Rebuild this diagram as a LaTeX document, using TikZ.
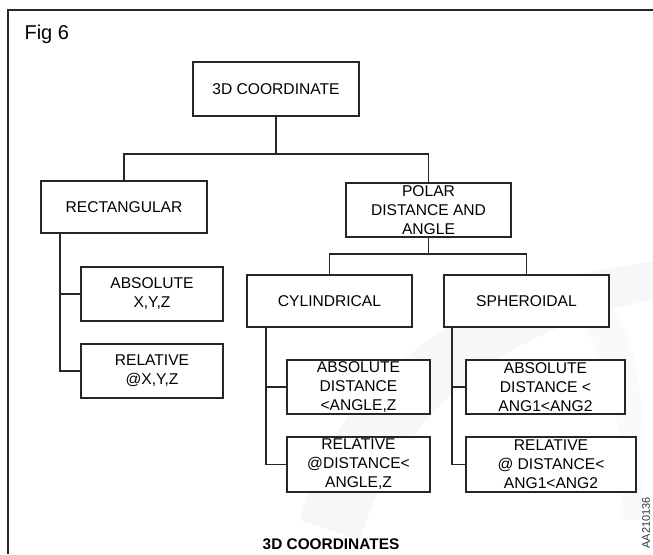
\documentclass[tikz,border=0pt]{standalone}
\usepackage{fontspec}
\setmainfont{Liberation Sans}
\begin{document}
\begin{tikzpicture}[x=1pt,y=-1pt,
  box/.style={draw=black!85,line width=1.1pt,fill=white,rectangle,inner sep=0pt,
    align=center,font=\fontsize{15.6}{19}\selectfont},
  link/.style={draw=black!85,line width=1.1pt}]
\useasboundingbox (0,0) rectangle (653,554);
\fill[white] (0,0) rectangle (653,554);
% faint watermark swoosh
\fill[black!3] (300,520) .. controls (340,350) and (520,275) .. (653,262)
   -- (653,300) .. controls (530,320) and (400,400) .. (360,540) -- cycle;
\fill[black!2] (560,300) .. controls (600,330) and (630,420) .. (620,520)
   -- (640,520) .. controls (650,420) and (640,330) .. (600,295) -- cycle;
% frame
\draw[black!85,line width=1.1pt] (8,554) -- (8,10) -- (653,10);
\node[anchor=west,font=\fontsize{20}{24}\selectfont] (fig) at (21,34) {Fig 6};
% boxes
\node[box,minimum width=166pt,minimum height=54pt] (root) at (276,89) {3D COORDINATE};
\node[box,minimum width=166pt,minimum height=52pt] (rect) at (124,207) {RECTANGULAR};
\node[box,minimum width=165pt,minimum height=54pt] (polar) at (428.5,210) {POLAR\\DISTANCE AND\\ANGLE};
\node[box,minimum width=165pt,minimum height=52pt] (cyl) at (329.5,301) {CYLINDRICAL};
\node[box,minimum width=165pt,minimum height=52pt] (sph) at (526.5,301) {SPHEROIDAL};
\node[box,minimum width=142pt,minimum height=54pt] (absxyz) at (152,294) {ABSOLUTE\\X,Y,Z};
\node[box,minimum width=142pt,minimum height=54pt] (relxyz) at (152,371) {RELATIVE\\@X,Y,Z};
\node[box,minimum width=143pt,minimum height=54pt] (cabs) at (358.5,387) {ABSOLUTE\\DISTANCE\\<ANGLE,Z};
\node[box,minimum width=143pt,minimum height=55pt] (crel) at (358.5,464.5) {RELATIVE\\@DISTANCE<\\ANGLE,Z};
\node[box,minimum width=159pt,minimum height=54pt] (sabs) at (545.5,387) {ABSOLUTE\\DISTANCE <\\ANG1<ANG2};
\node[box,minimum width=170pt,minimum height=55pt] (srel) at (551,464.5) {RELATIVE\\@ DISTANCE<\\ANG1<ANG2};
% connectors
\coordinate (j1) at (276,154);
\draw[link] (root.south) -- (j1);
\draw[link] (rect.north) -- (rect.north |- j1) -- (polar.north |- j1) -- (polar.north);
\coordinate (j2) at (428.5,254);
\draw[link] (polar.south) -- (j2);
\draw[link] (cyl.north) -- (cyl.north |- j2) -- (sph.north |- j2) -- (sph.north);
\coordinate (t1) at (60,233);
\draw[link] (t1) |- (absxyz.west);
\draw[link] (t1) |- (relxyz.west);
\coordinate (t2) at (266,327);
\draw[link] (t2) |- (cabs.west);
\draw[link] (t2) |- (crel.west);
\coordinate (t3) at (452,327);
\draw[link] (t3) |- (sabs.west);
\draw[link] (t3) |- (srel.west);
% captions
\node[anchor=base,inner sep=0pt,font=\bfseries\fontsize{15.4}{18}\selectfont] (cap) at (331,549.5) {3D COORDINATES};
\node[rotate=90,anchor=east,inner sep=0pt,font=\fontsize{11}{13}\selectfont,text=black!80] (code) at (646,497) {AA210136};
\end{tikzpicture}
\end{document}
